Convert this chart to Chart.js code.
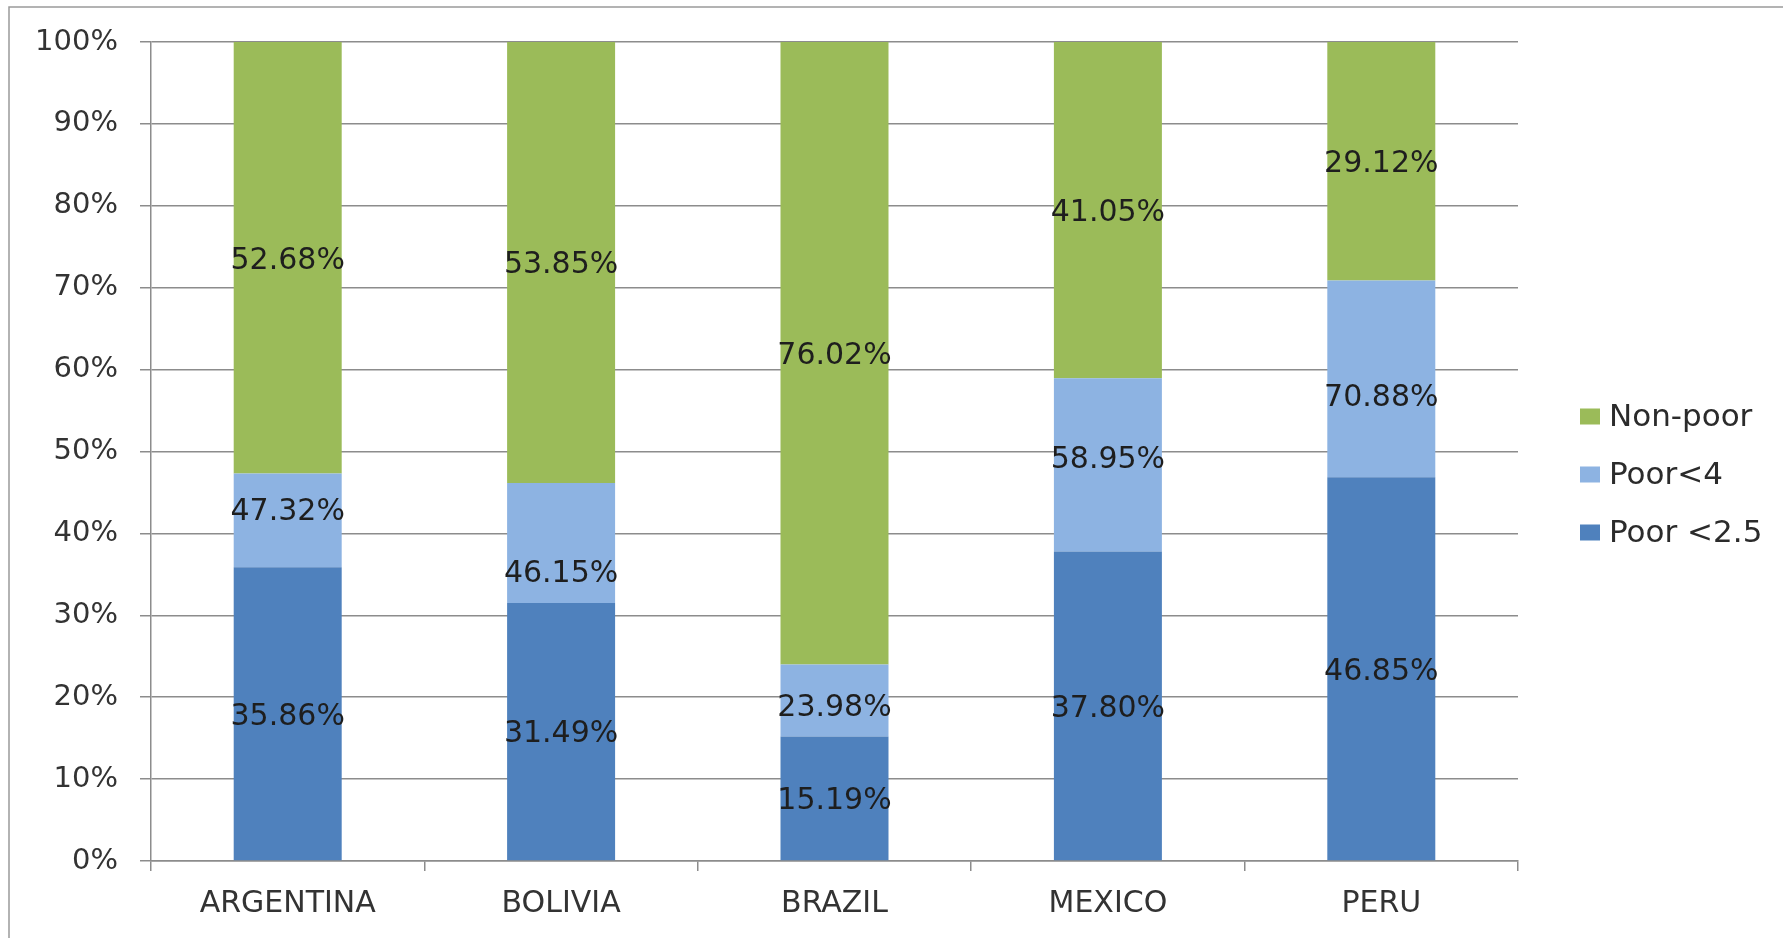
<!DOCTYPE html>
<html>
<head>
<meta charset="utf-8">
<title>Poverty shares</title>
<script src="https://cdn.jsdelivr.net/npm/chart.js@4.4.1/dist/chart.umd.min.js"></script>
<style>
    html, body { margin: 0; padding: 0; background: #ffffff; }
    #wrap { width: 1783px; height: 938px; position: relative; }
</style>
</head>
<body>
<div id="wrap"><canvas id="povertyChart" width="1783" height="938"></canvas></div>
<script>
const countries = ['ARGENTINA', 'BOLIVIA', 'BRAZIL', 'MEXICO', 'PERU'];
const poor25 = [35.86, 31.49, 15.19, 37.80, 46.85];
// Poor<4 labels in the picture are cumulative shares
const poor4Cum = [47.32, 46.15, 23.98, 58.95, 70.88];
const nonPoor = [52.68, 53.85, 76.02, 41.05, 29.12];
const yTicks = [0, 10, 20, 30, 40, 50, 60, 70, 80, 90, 100];

const FONT = "'DejaVu Sans', sans-serif";
const GRID = '#8c8c8c';

document.addEventListener('DOMContentLoaded', function () {
    const poor4Seg = poor4Cum.map(function (v, i) { return +(v - poor25[i]).toFixed(2); });

    // labelShift: pixel nudges of the value labels (the Poor<4 ones were moved by hand)
    const datasets = [
        { label: 'Poor <2.5', data: poor25, labels: poor25, backgroundColor: '#4f81bd',
          labelShift: [0, 0, 0, 0, 0] },
        { label: 'Poor<4', data: poor4Seg, labels: poor4Cum, backgroundColor: '#8db3e2',
          labelShift: [-11, 28, 5, -8, 16] },
        { label: 'Non-poor', data: nonPoor, labels: nonPoor, backgroundColor: '#9bbb59',
          labelShift: [0, 0, 0, 0, 0] }
    ];

    // outer frame lines (left and top only are visible)
    const framePlugin = {
        id: 'frame',
        beforeDraw: function (chart) {
            const ctx = chart.ctx;
            ctx.save();
            ctx.fillStyle = '#ffffff';
            ctx.fillRect(0, 0, chart.width, chart.height);
            ctx.strokeStyle = '#9a9a9a';
            ctx.lineWidth = 1.5;
            ctx.beginPath();
            ctx.moveTo(9, chart.height);
            ctx.lineTo(9, 7);
            ctx.lineTo(chart.width, 7);
            ctx.stroke();
            ctx.restore();
        }
    };

    // value labels centred in each segment
    const valuePlugin = {
        id: 'values',
        afterDatasetsDraw: function (chart) {
            const ctx = chart.ctx;
            ctx.save();
            ctx.font = '30px ' + FONT;
            ctx.fillStyle = '#1e1e1e';
            ctx.textAlign = 'center';
            ctx.textBaseline = 'middle';
            chart.data.datasets.forEach(function (ds, di) {
                chart.getDatasetMeta(di).data.forEach(function (bar, i) {
                    const y = (bar.y + bar.base) / 2 + 3 + ds.labelShift[i];
                    ctx.fillText(ds.labels[i].toFixed(2) + '%', bar.x, y);
                });
            });
            ctx.restore();
        }
    };

    // legend on the right, top item = last dataset
    const legendPlugin = {
        id: 'sideLegend',
        afterDraw: function (chart) {
            const ctx = chart.ctx;
            const area = chart.chartArea;
            const x = area.right + 62;
            const midY = (area.top + area.bottom) / 2 + 24;
            const step = 58;
            ctx.save();
            ctx.font = '31px ' + FONT;
            ctx.textBaseline = 'middle';
            ctx.textAlign = 'left';
            const items = chart.data.datasets.slice().reverse();
            items.forEach(function (ds, k) {
                const y = midY + (k - 1) * step;
                ctx.fillStyle = ds.backgroundColor;
                ctx.fillRect(x, y - 9, 20, 16);
                ctx.fillStyle = '#2b2b2b';
                ctx.fillText(ds.label, x + 29, y);
            });
            ctx.restore();
        }
    };

    const canvas = document.getElementById('povertyChart');
    new Chart(canvas.getContext('2d'), {
        type: 'bar',
        data: { labels: countries, datasets: datasets },
        options: {
            responsive: false,
            animation: false,
            layout: { padding: { top: 42, right: 265, left: 0, bottom: 0 } },
            datasets: {
                bar: { categoryPercentage: 1.0, barPercentage: 0.395 }
            },
            plugins: {
                legend: { display: false },
                tooltip: { enabled: false }
            },
            scales: {
                x: {
                    stacked: true,
                    afterFit: function (s) { s.height = 77; },
                    grid: {
                        offset: true,
                        drawOnChartArea: false,
                        drawTicks: true,
                        tickLength: 10,
                        color: GRID,
                        lineWidth: 1.5
                    },
                    border: { display: true, color: GRID, width: 1.5 },
                    ticks: {
                        color: '#333333',
                        font: { family: FONT, size: 30 },
                        padding: 15,
                        maxRotation: 0
                    }
                },
                y: {
                    stacked: true,
                    min: 0,
                    max: 100,
                    afterFit: function (s) { s.width = 151; },
                    afterBuildTicks: function (s) {
                        s.ticks = yTicks.map(function (v) { return { value: v }; });
                    },
                    grid: {
                        color: GRID,
                        lineWidth: 1.5,
                        drawTicks: true,
                        tickLength: 11
                    },
                    border: { display: true, color: GRID, width: 1.5 },
                    ticks: {
                        color: '#333333',
                        font: { family: FONT, size: 29 },
                        padding: 22,
                        callback: function (v) { return v + '%'; }
                    }
                }
            }
        },
        plugins: [framePlugin, valuePlugin, legendPlugin]
    });
});
</script>
</body>
</html>
